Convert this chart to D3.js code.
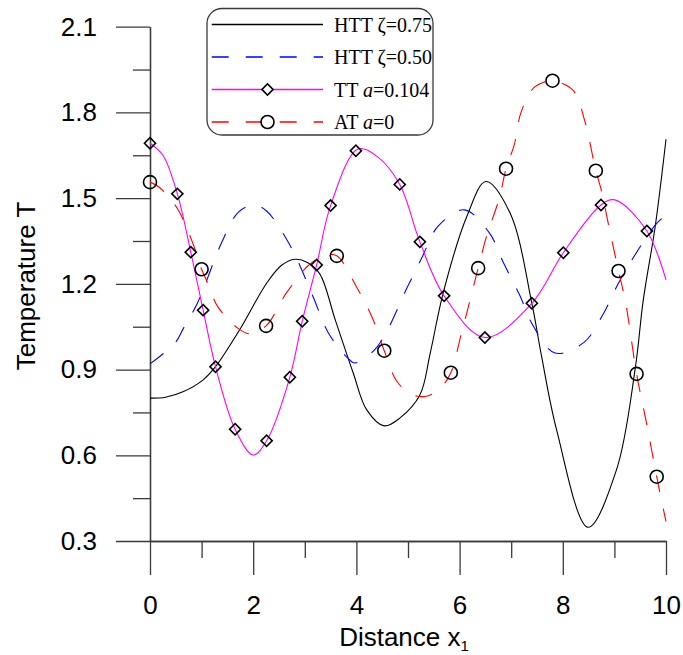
<!DOCTYPE html>
<html>
<head>
<meta charset="utf-8">
<script src="https://cdn.jsdelivr.net/npm/d3@7/dist/d3.min.js"></script>
<style>
  body { margin: 0; background: #fff; }
  svg { display: block; }
  .tick text { font-family: "Liberation Sans", Arial, sans-serif; font-size: 26px; fill: #000; }
  .legend text { font-family: "Liberation Serif", "Times New Roman", serif; font-size: 20px; fill: #000; }
</style>
</head>
<body>
<svg id="chart" width="683" height="655"></svg>
<script>
// series: [x, T]
const htt075 = [[0,0.80],[0.3,0.803],[0.65,0.823],[1.03,0.864],[1.27,0.91],[1.74,1.04],[2.26,1.202],[2.55,1.265],[2.81,1.286],[3.05,1.275],[3.29,1.235],[3.59,1.074],[3.94,0.887],[4.2,0.759],[4.54,0.703],[4.84,0.73],[5.23,0.811],[5.43,0.957],[5.68,1.167],[6.14,1.436],[6.51,1.558],[6.98,1.447],[7.4,1.132],[7.59,0.945],[7.88,0.689],[8.49,0.348],[9.04,0.549],[9.4,0.899],[9.56,1.144],[9.79,1.40],[10,1.706]];
const htt050 = [[0,0.92],[0.48,0.992],[0.65,1.045],[0.92,1.133],[1.4,1.349],[1.72,1.452],[2.03,1.476],[2.26,1.455],[2.71,1.336],[3.16,1.155],[3.46,1.027],[3.83,0.941],[3.97,0.923],[4.39,0.977],[5.0,1.193],[5.28,1.296],[5.58,1.401],[6.09,1.459],[6.57,1.38],[6.86,1.27],[7.17,1.158],[7.42,1.055],[7.85,0.958],[8.41,0.995],[8.8,1.10],[9.06,1.196],[9.35,1.287],[9.82,1.412],[10,1.44]];
const tt0104 = [[0,1.692],[0.25,1.65],[0.53,1.515],[0.79,1.311],[1.03,1.108],[1.27,0.91],[1.65,0.691],[2.0,0.601],[2.26,0.651],[2.71,0.873],[2.95,1.069],[3.23,1.266],[3.5,1.474],[4.03,1.672],[4.4,1.646],[4.84,1.548],[5.23,1.347],[5.7,1.158],[6.49,1.012],[7.4,1.132],[8.01,1.309],[8.74,1.476],[9.01,1.494],[9.63,1.385],[10,1.214]];
const at0 = [[0,1.556],[0.18,1.538],[0.53,1.464],[0.83,1.342],[1.0,1.251],[1.1,1.21],[1.31,1.121],[1.7,1.045],[1.95,1.025],[2.25,1.053],[2.65,1.17],[3.08,1.266],[3.4,1.30],[3.62,1.298],[4.0,1.19],[4.3,1.085],[4.54,0.966],[4.78,0.86],[5.05,0.815],[5.33,0.806],[5.6,0.83],[5.83,0.889],[6.02,1.015],[6.36,1.255],[6.52,1.365],[6.77,1.50],[6.9,1.603],[7.06,1.687],[7.19,1.80],[7.43,1.885],[7.62,1.905],[7.8,1.911],[8.2,1.877],[8.42,1.774],[8.64,1.596],[8.74,1.532],[8.9,1.395],[9.08,1.245],[9.22,1.132],[9.43,0.885],[9.62,0.715],[9.82,0.525],[10,0.368]];

// marker positions
const ttMarkers = [[0,1.692],[0.53,1.515],[0.79,1.311],[1.03,1.108],[1.27,0.91],[1.65,0.691],[2.26,0.651],[2.71,0.873],[2.95,1.069],[3.23,1.266],[3.5,1.474],[3.99,1.666],[4.84,1.548],[5.23,1.347],[5.7,1.158],[6.49,1.012],[7.4,1.132],[8.01,1.309],[8.74,1.476],[9.63,1.385]];
const atMarkers = [[0,1.556],[1.0,1.251],[2.25,1.053],[3.62,1.298],[4.54,0.966],[5.83,0.889],[6.36,1.255],[6.9,1.603],[7.8,1.911],[8.64,1.596],[9.08,1.245],[9.43,0.885],[9.82,0.525]];

const xMajor = [0, 2, 4, 6, 8, 10];
const xMinor = [1, 3, 5, 7, 9];
const yMajor = [0.3, 0.6, 0.9, 1.2, 1.5, 1.8, 2.1];
const yMinor = [0.45, 0.75, 1.05, 1.35, 1.65, 1.95];

const legendLabels = [
  ['HTT ', 'ζ', '=0.75'],
  ['HTT ', 'ζ', '=0.50'],
  ['TT ', 'a', '=0.104'],
  ['AT ', 'a', '=0']
];

const svg = d3.select('#chart');
const x = d3.scaleLinear().domain([0, 10]).range([150, 666]);
const y = d3.scaleLinear().domain([0.3, 2.1]).range([541, 26.7]);
const axisColor = '#3a3a3a';

function styleAxis(g) {
  g.selectAll('path').attr('stroke', axisColor).attr('stroke-width', 1.3);
  g.selectAll('line').attr('stroke', axisColor).attr('stroke-width', 1.3);
}

// x axis
svg.append('g').attr('transform', 'translate(0,541)')
  .call(d3.axisBottom(x).tickValues(xMinor).tickSize(17).tickSizeOuter(0).tickFormat(''))
  .call(styleAxis);
svg.append('g').attr('transform', 'translate(0,541)')
  .call(d3.axisBottom(x).tickValues(xMajor).tickSize(34).tickSizeOuter(0).tickPadding(21).tickFormat(d3.format('d')))
  .call(styleAxis);

// y axis
svg.append('g').attr('transform', 'translate(150,0)')
  .call(d3.axisLeft(y).tickValues(yMinor).tickSize(17).tickSizeOuter(0).tickFormat(''))
  .call(styleAxis);
svg.append('g').attr('transform', 'translate(150,0)')
  .call(d3.axisLeft(y).tickValues(yMajor).tickSize(34).tickSizeOuter(0).tickPadding(19).tickFormat(d3.format('.1f')))
  .call(styleAxis);

// axis titles
svg.append('text')
  .attr('transform', 'translate(35,286)rotate(-90)')
  .attr('text-anchor', 'middle')
  .style('font-family', '"Liberation Sans", Arial, sans-serif')
  .style('font-size', '26px')
  .text('Temperature T');

let xt = svg.append('text')
  .attr('x', 404).attr('y', 646)
  .attr('text-anchor', 'middle')
  .style('font-family', '"Liberation Sans", Arial, sans-serif')
  .style('font-size', '26px');
xt.append('tspan').text('Distance x');
xt.append('tspan').attr('dy', 5).style('font-size', '15px').text('1');

// curves
let line = d3.line()
  .x((d) => x(d[0]))
  .y((d) => y(d[1]))
  .curve(d3.curveCatmullRom.alpha(0.5));

const styles = [
  { data: htt075, color: '#000000', dash: null },
  { data: htt050, color: '#0000ff', dash: '17,17' },
  { data: tt0104, color: '#ff00ff', dash: null },
  { data: at0, color: '#ff0000', dash: '17,17' }
];

styles.forEach((s) => {
  svg.append('path')
    .datum(s.data)
    .attr('d', line)
    .attr('fill', 'none')
    .attr('stroke', s.color)
    .attr('stroke-width', 1.1)
    .attr('stroke-dasharray', s.dash);
});

let diamond = d3.symbol(d3.symbolSquare, 62);

svg.append('g').selectAll('path')
  .data(ttMarkers)
  .enter()
  .append('path')
    .attr('d', diamond)
    .attr('transform', (d) => `translate(${x(d[0])},${y(d[1])})rotate(45)`)
    .attr('fill', 'none')
    .attr('stroke', '#000')
    .attr('stroke-width', 1.6);

svg.append('g').selectAll('circle')
  .data(atMarkers)
  .enter()
  .append('circle')
    .attr('cx', (d) => x(d[0]))
    .attr('cy', (d) => y(d[1]))
    .attr('r', 6.5)
    .attr('fill', 'none')
    .attr('stroke', '#000')
    .attr('stroke-width', 1.6);

// legend
let legend = svg.append('g').attr('class', 'legend');
legend.append('rect')
  .attr('x', 207).attr('y', 8.5)
  .attr('width', 226).attr('height', 126.5)
  .attr('rx', 15).attr('ry', 15)
  .attr('fill', '#fff')
  .attr('stroke', axisColor)
  .attr('stroke-width', 1.3);

legendLabels.forEach((lab, i) => {
  let ly = 24.5 + i * 32.5;
  let s = styles[i];
  let ln = legend.append('line')
    .attr('x1', 211.7).attr('x2', 323)
    .attr('y1', ly).attr('y2', ly)
    .style('stroke', s.color)
    .style('stroke-width', 1.3);
  if (s.dash) ln.style('stroke-dasharray', s.dash);
  if (i === 2) {
    legend.append('path')
      .attr('d', diamond)
      .attr('transform', `translate(267.5,${ly})rotate(45)`)
      .attr('fill', '#fff').attr('stroke', '#000').attr('stroke-width', 1.6);
  }
  if (i === 3) {
    legend.append('circle')
      .attr('cx', 267.5).attr('cy', ly).attr('r', 6.5)
      .attr('fill', '#fff').attr('stroke', '#000').attr('stroke-width', 1.6);
  }
  let t = legend.append('text').attr('x', 334).attr('y', ly + 7);
  t.append('tspan').text(lab[0]);
  t.append('tspan').style('font-style', i >= 2 ? 'italic' : 'normal').text(lab[1]);
  t.append('tspan').text(lab[2]);
});
</script>
</body>
</html>
